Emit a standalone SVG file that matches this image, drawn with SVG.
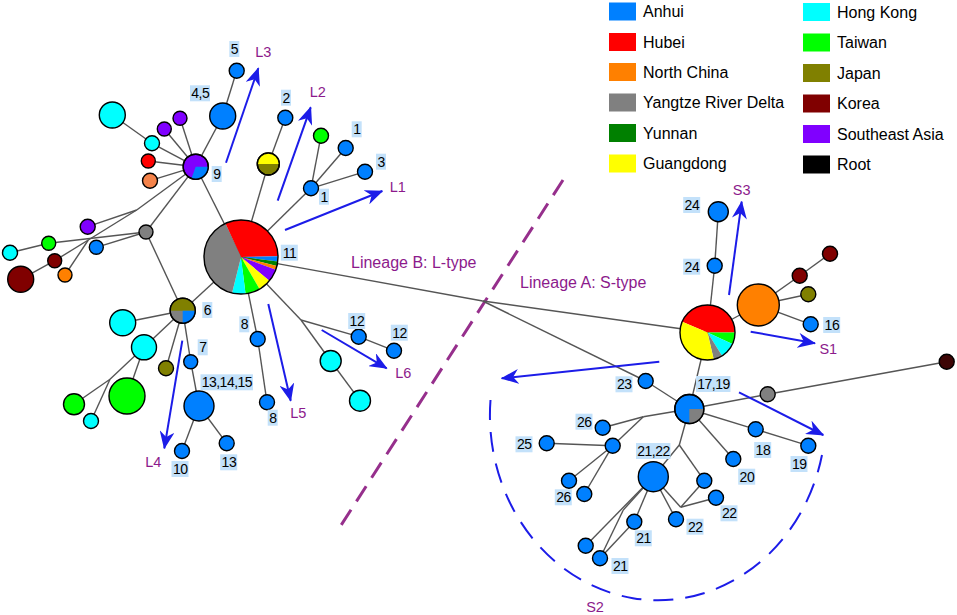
<svg xmlns="http://www.w3.org/2000/svg" width="957" height="615" viewBox="0 0 957 615">
<style>
.e{stroke:#555;stroke-width:1.4;fill:none}
.n{stroke:#000;stroke-width:1.4}
.s{stroke:none}
.o{fill:none;stroke:#000;stroke-width:1.4}
.ah{stroke:#1c1ce8;stroke-width:2;fill:none}
.lb rect{fill:#c3e1fa}
.lb text{font-family:"Liberation Sans",Arial,sans-serif;font-size:14px;letter-spacing:-0.5px;fill:#000;text-anchor:middle}
.pl{font-family:"Liberation Sans",Arial,sans-serif;font-size:14.5px;fill:#8c1a8c;text-anchor:middle}
.lin{font-family:"Liberation Sans",Arial,sans-serif;font-size:16px;fill:#8c1a8c}
.lg{font-family:"Liberation Sans",Arial,sans-serif;font-size:16px;fill:#000}
.AH{fill:#0080ff}.HB{fill:#ff0000}.NC{fill:#ff8000}.YR{fill:#808080}.YN{fill:#008000}.GD{fill:#ffff00}
.HK{fill:#00ffff}.TW{fill:#00ff00}.JP{fill:#808000}.KR{fill:#800000}.SA{fill:#8000ff}.RT{fill:#000}
.CO{fill:#f5834a}
</style>
<defs>
<marker id="ah" markerWidth="18" markerHeight="15" refX="17" refY="7.5" orient="auto" markerUnits="userSpaceOnUse">
<path d="M0,0 L18,7.5 L0,15 L5.5,7.5 Z" fill="#1c1ce8"/>
</marker>
</defs>
<rect width="957" height="615" fill="#fff"/>

<g id="legend">
<rect class="AH" x="609" y="2.5" width="27" height="18"/><text class="lg" x="643" y="17">Anhui</text>
<rect class="HB" x="609" y="33" width="27" height="18"/><text class="lg" x="643" y="47.5">Hubei</text>
<rect class="NC" x="609" y="63" width="27" height="18"/><text class="lg" x="643" y="77.5">North China</text>
<rect class="YR" x="609" y="93.5" width="27" height="18"/><text class="lg" x="643" y="108">Yangtze River Delta</text>
<rect class="YN" x="609" y="124" width="27" height="18"/><text class="lg" x="643" y="138.5">Yunnan</text>
<rect class="GD" x="609" y="154.5" width="27" height="18"/><text class="lg" x="643" y="169">Guangdong</text>
<rect class="HK" x="803" y="3" width="27" height="18"/><text class="lg" x="837" y="18">Hong Kong</text>
<rect class="TW" x="803" y="33.5" width="27" height="18"/><text class="lg" x="837" y="48">Taiwan</text>
<rect class="JP" x="803" y="64" width="27" height="18"/><text class="lg" x="837" y="78.5">Japan</text>
<rect class="KR" x="803" y="94.5" width="27" height="18"/><text class="lg" x="837" y="109">Korea</text>
<rect class="SA" x="803" y="125" width="27" height="18"/><text class="lg" x="837" y="139.5">Southeast Asia</text>
<rect class="RT" x="803" y="155.5" width="27" height="18"/><text class="lg" x="837" y="170">Root</text>
</g>

<g id="dividers">
<line x1="563" y1="180" x2="338" y2="530" stroke="#962f8c" stroke-width="3" stroke-dasharray="18 10"/>
<path d="M490.5,400 A168,185 0 0 0 822,455" fill="none" stroke="#1c1ce8" stroke-width="2" stroke-dasharray="20 12"/>
</g>

<g id="connectors">
<line class="e" x1="241" y1="257" x2="195.7" y2="166.7"/>
<line class="e" x1="195.7" y1="166.7" x2="222.7" y2="116"/>
<line class="e" x1="222.7" y1="116" x2="236.7" y2="70.7"/>
<line class="e" x1="195.7" y1="166.7" x2="152" y2="143.3"/>
<line class="e" x1="152" y1="143.3" x2="112.3" y2="115"/>
<line class="e" x1="195.7" y1="166.7" x2="180" y2="118.3"/>
<line class="e" x1="195.7" y1="166.7" x2="164.3" y2="129"/>
<line class="e" x1="195.7" y1="166.7" x2="148.3" y2="161"/>
<line class="e" x1="195.7" y1="166.7" x2="150" y2="180.7"/>
<line class="e" x1="195.7" y1="166.7" x2="136.7" y2="210"/>
<line class="e" x1="136.7" y1="210" x2="87.7" y2="226.7"/>
<line class="e" x1="136.7" y1="210" x2="88.3" y2="240"/>
<line class="e" x1="88.3" y1="240" x2="54.7" y2="260.7"/>
<line class="e" x1="88.3" y1="240" x2="65" y2="275"/>
<line class="e" x1="54.7" y1="260.7" x2="20.7" y2="279.3"/>
<line class="e" x1="195.7" y1="166.7" x2="146" y2="232"/>
<line class="e" x1="146" y1="232" x2="48.7" y2="243.3"/>
<line class="e" x1="48.7" y1="243.3" x2="10" y2="252.7"/>
<line class="e" x1="146" y1="232" x2="96.3" y2="247.3"/>
<line class="e" x1="146" y1="232" x2="182.7" y2="310.7"/>
<line class="e" x1="182.7" y1="310.7" x2="241" y2="257"/>
<line class="e" x1="182.7" y1="310.7" x2="122.7" y2="322.7"/>
<line class="e" x1="182.7" y1="310.7" x2="144" y2="347.3"/>
<line class="e" x1="144" y1="347.3" x2="127" y2="396"/>
<line class="e" x1="144" y1="347.3" x2="110" y2="379.3"/>
<line class="e" x1="110" y1="379.3" x2="74" y2="404.3"/>
<line class="e" x1="110" y1="379.3" x2="91" y2="421"/>
<line class="e" x1="182.7" y1="310.7" x2="166" y2="368.3"/>
<line class="e" x1="182.7" y1="310.7" x2="190.7" y2="361.7"/>
<line class="e" x1="190.7" y1="361.7" x2="199" y2="406"/>
<line class="e" x1="199" y1="406" x2="182" y2="451"/>
<line class="e" x1="199" y1="406" x2="226.7" y2="443.3"/>
<line class="e" x1="241" y1="257" x2="257.7" y2="339"/>
<line class="e" x1="257.7" y1="339" x2="267" y2="402.3"/>
<line class="e" x1="241" y1="257" x2="301" y2="320"/>
<line class="e" x1="301" y1="320" x2="330.7" y2="361"/>
<line class="e" x1="330.7" y1="361" x2="360" y2="400.7"/>
<line class="e" x1="301" y1="320" x2="358.7" y2="336.7"/>
<line class="e" x1="358.7" y1="336.7" x2="394" y2="350.7"/>
<line class="e" x1="241" y1="257" x2="268.3" y2="164"/>
<line class="e" x1="268.3" y1="164" x2="285.3" y2="117.7"/>
<line class="e" x1="241" y1="257" x2="311" y2="188.3"/>
<line class="e" x1="311" y1="188.3" x2="321" y2="135.7"/>
<line class="e" x1="311" y1="188.3" x2="345.7" y2="148"/>
<line class="e" x1="311" y1="188.3" x2="365" y2="171.7"/>
<line class="e" x1="241" y1="257" x2="482.7" y2="301"/>
<line class="e" x1="482.7" y1="301" x2="707.5" y2="332.5"/>
<line class="e" x1="482.7" y1="301" x2="645.7" y2="381"/>
<line class="e" x1="645.7" y1="381" x2="689.3" y2="409"/>
<line class="e" x1="707.5" y1="332.5" x2="714.7" y2="265.7"/>
<line class="e" x1="714.7" y1="265.7" x2="718.3" y2="211.7"/>
<line class="e" x1="707.5" y1="332.5" x2="758.3" y2="305"/>
<line class="e" x1="758.3" y1="305" x2="799.7" y2="275.7"/>
<line class="e" x1="799.7" y1="275.7" x2="830" y2="253.7"/>
<line class="e" x1="758.3" y1="305" x2="808.3" y2="294.3"/>
<line class="e" x1="758.3" y1="305" x2="810.7" y2="324.3"/>
<line class="e" x1="707.5" y1="332.5" x2="689.3" y2="409"/>
<line class="e" x1="689.3" y1="409" x2="767.7" y2="394.3"/>
<line class="e" x1="767.7" y1="394.3" x2="946.7" y2="361.7"/>
<line class="e" x1="689.3" y1="409" x2="755.7" y2="429.3"/>
<line class="e" x1="755.7" y1="429.3" x2="808.3" y2="445.7"/>
<line class="e" x1="689.3" y1="409" x2="733.3" y2="459"/>
<line class="e" x1="689.3" y1="409" x2="679.3" y2="445"/>
<line class="e" x1="679.3" y1="445" x2="653.3" y2="476.7"/>
<line class="e" x1="679.3" y1="445" x2="704.3" y2="480.7"/>
<line class="e" x1="653.3" y1="476.7" x2="680.7" y2="507.3"/>
<line class="e" x1="680.7" y1="507.3" x2="704.3" y2="480.7"/>
<line class="e" x1="680.7" y1="507.3" x2="716" y2="497.7"/>
<line class="e" x1="653.3" y1="476.7" x2="676" y2="519.3"/>
<line class="e" x1="653.3" y1="476.7" x2="585.7" y2="545.7"/>
<line class="e" x1="653.3" y1="476.7" x2="623.3" y2="510"/>
<line class="e" x1="623.3" y1="510" x2="600" y2="558.3"/>
<line class="e" x1="653.3" y1="476.7" x2="634.3" y2="521.7"/>
<line class="e" x1="634.3" y1="521.7" x2="600" y2="558.3"/>
<line class="e" x1="689.3" y1="409" x2="643.3" y2="416.7"/>
<line class="e" x1="643.3" y1="416.7" x2="602.7" y2="427.7"/>
<line class="e" x1="643.3" y1="416.7" x2="612.7" y2="445.7"/>
<line class="e" x1="612.7" y1="445.7" x2="546.7" y2="443.3"/>
<line class="e" x1="612.7" y1="445.7" x2="569" y2="480.7"/>
<line class="e" x1="612.7" y1="445.7" x2="584.3" y2="494"/>
</g>

<g id="node-pie-L">
<path class="s HB" d="M241,257 L225.36,223.47 A37,37 0 0 1 277.99,256.35 Z"/>
<path class="s AH" d="M241,257 L277.99,256.35 A37,37 0 0 1 277.72,261.51 Z"/>
<path class="s YN" d="M241,257 L277.72,261.51 A37,37 0 0 1 276.90,265.95 Z"/>
<path class="s NC" d="M241,257 L276.90,265.95 A37,37 0 0 1 275.77,269.65 Z"/>
<path class="s SA" d="M241,257 L275.77,269.65 A37,37 0 0 1 269.34,280.78 Z"/>
<path class="s GD" d="M241,257 L269.34,280.78 A37,37 0 0 1 259.5,289.04 Z"/>
<path class="s TW" d="M241,257 L259.5,289.04 A37,37 0 0 1 245.51,293.72 Z"/>
<path class="s HK" d="M241,257 L245.51,293.72 A37,37 0 0 1 232.05,292.90 Z"/>
<path class="s YR" d="M241,257 L232.05,292.90 A37,37 0 0 1 225.36,223.47 Z"/>
<circle class="o" cx="241" cy="257" r="37"/>
</g>
<g id="node-9">
<circle class="n SA" cx="195.7" cy="166.7" r="12.5"/>
<path class="s AH" d="M195.7,166.7 L208.2,166.7 A12.5,12.5 0 0 1 191.42,178.45 Z"/>
<circle class="o" cx="195.7" cy="166.7" r="12.5"/>
</g>
<g id="node-6">
<circle class="n YR" cx="182.7" cy="310.7" r="12.5"/>
<path class="s JP" d="M170.2,310.7 A12.5,12.5 0 0 1 195.2,310.7 Z"/>
<path class="s AH" d="M182.7,310.7 L195.2,310.7 A12.5,12.5 0 0 1 182.7,323.2 Z"/>
<circle class="o" cx="182.7" cy="310.7" r="12.5"/>
</g>
<g id="node-yj">
<circle class="n JP" cx="268.3" cy="164" r="11"/>
<path class="s GD" d="M257.3,164 A11,11 0 0 1 279.3,164 Z"/>
<circle class="o" cx="268.3" cy="164" r="11"/>
</g>
<g id="nodes-left">
<circle class="n AH" cx="236.7" cy="70.7" r="7.5"/>
<circle class="n AH" cx="222.7" cy="116" r="13"/>
<circle class="n HK" cx="112.3" cy="115" r="13"/>
<circle class="n SA" cx="180" cy="118.3" r="7"/>
<circle class="n SA" cx="164.3" cy="129" r="7"/>
<circle class="n HK" cx="152" cy="143.3" r="7.5"/>
<circle class="n HB" cx="148.3" cy="161" r="7"/>
<circle class="n CO" cx="150" cy="180.7" r="7.5"/>
<circle class="n YR" cx="146" cy="232" r="7"/>
<circle class="n SA" cx="87.7" cy="226.7" r="7.5"/>
<circle class="n TW" cx="48.7" cy="243.3" r="7"/>
<circle class="n AH" cx="96.3" cy="247.3" r="7"/>
<circle class="n HK" cx="10" cy="252.7" r="7.5"/>
<circle class="n KR" cx="54.7" cy="260.7" r="7"/>
<circle class="n NC" cx="65" cy="275" r="7"/>
<circle class="n KR" cx="20.7" cy="279.3" r="13"/>
<circle class="n HK" cx="122.7" cy="322.7" r="13"/>
<circle class="n HK" cx="144" cy="347.3" r="12.5"/>
<circle class="n JP" cx="166" cy="368.3" r="7.5"/>
<circle class="n AH" cx="190.7" cy="361.7" r="7"/>
<circle class="n AH" cx="199" cy="406" r="15"/>
<circle class="n TW" cx="127" cy="396" r="18"/>
<circle class="n TW" cx="74" cy="404.3" r="10.5"/>
<circle class="n HK" cx="91" cy="421" r="7.5"/>
<circle class="n AH" cx="182" cy="451" r="7.5"/>
<circle class="n AH" cx="226.7" cy="443.3" r="7.5"/>
<circle class="n AH" cx="257.7" cy="339" r="7.5"/>
<circle class="n AH" cx="267" cy="402.3" r="7.5"/>
<circle class="n HK" cx="330.7" cy="361" r="10.5"/>
<circle class="n HK" cx="360" cy="400.7" r="10.5"/>
<circle class="n AH" cx="358.7" cy="336.7" r="7.5"/>
<circle class="n AH" cx="394" cy="350.7" r="7.5"/>
<circle class="n AH" cx="285.3" cy="117.7" r="7.5"/>
<circle class="n TW" cx="321" cy="135.7" r="7.5"/>
<circle class="n AH" cx="345.7" cy="148" r="7.5"/>
<circle class="n AH" cx="365" cy="171.7" r="7.5"/>
<circle class="n AH" cx="311" cy="188.3" r="7.5"/>
</g>

<g id="node-pie-R">
<path class="s HB" d="M707.5,332.5 L682.19,321.75 A27.5,27.5 0 0 1 735,332.5 Z"/>
<path class="s TW" d="M707.5,332.5 L735,332.5 A27.5,27.5 0 0 1 732.42,344.12 Z"/>
<path class="s HK" d="M707.5,332.5 L732.42,344.12 A27.5,27.5 0 0 1 722.07,355.82 Z"/>
<path class="s YR" d="M707.5,332.5 L722.07,355.82 A27.5,27.5 0 0 1 713.69,359.30 Z"/>
<path class="s GD" d="M707.5,332.5 L713.69,359.30 A27.5,27.5 0 0 1 682.19,321.75 Z"/>
<circle class="o" cx="707.5" cy="332.5" r="27.5"/>
</g>
<g id="node-1719">
<circle class="n AH" cx="689.3" cy="409" r="14.5"/>
<path class="s YR" d="M689.3,409 L703.8,409 A14.5,14.5 0 0 1 689.3,423.5 Z"/>
<circle class="o" cx="689.3" cy="409" r="14.5"/>
</g>
<g id="nodes-right">
<circle class="n AH" cx="718.3" cy="211.7" r="10"/>
<circle class="n AH" cx="714.7" cy="265.7" r="7.5"/>
<circle class="n NC" cx="758.3" cy="305" r="21"/>
<circle class="n KR" cx="799.7" cy="275.7" r="7.5"/>
<circle class="n KR" cx="830" cy="253.7" r="7.5"/>
<circle class="n JP" cx="808.3" cy="294.3" r="7.5"/>
<circle class="n AH" cx="810.7" cy="324.3" r="7.5"/>
<circle class="n YR" cx="767.7" cy="394.3" r="7.5"/>
<circle class="n" cx="946.7" cy="361.7" r="7.5" fill="#3d0505"/>
<circle class="n AH" cx="645.7" cy="381" r="7.5"/>
<circle class="n AH" cx="755.7" cy="429.3" r="7.5"/>
<circle class="n AH" cx="808.3" cy="445.7" r="7.5"/>
<circle class="n AH" cx="733.3" cy="459" r="7.5"/>
<circle class="n AH" cx="653.3" cy="476.7" r="15"/>
<circle class="n AH" cx="704.3" cy="480.7" r="7.5"/>
<circle class="n AH" cx="716" cy="497.7" r="7.5"/>
<circle class="n AH" cx="676" cy="519.3" r="7.5"/>
<circle class="n AH" cx="634.3" cy="521.7" r="7.5"/>
<circle class="n AH" cx="585.7" cy="545.7" r="7.5"/>
<circle class="n AH" cx="600" cy="558.3" r="7.5"/>
<circle class="n AH" cx="602.7" cy="427.7" r="7.5"/>
<circle class="n AH" cx="612.7" cy="445.7" r="7.5"/>
<circle class="n AH" cx="546.7" cy="443.3" r="7.5"/>
<circle class="n AH" cx="569" cy="480.7" r="7.5"/>
<circle class="n AH" cx="584.3" cy="494" r="7.5"/>
</g>

<g id="labels" class="lb">
<rect x="229.3" y="41" width="10" height="16"/><text x="234.5" y="54">5</text>
<rect x="190" y="85.3" width="20" height="16"/><text x="200.2" y="98.3">4,5</text>
<rect x="211.7" y="166" width="10" height="16"/><text x="216.9" y="179">9</text>
<rect x="281" y="89.7" width="10" height="16"/><text x="286.2" y="102.7">2</text>
<rect x="351.7" y="121.3" width="10" height="16"/><text x="356.9" y="134.3">1</text>
<rect x="376" y="153.7" width="10" height="16"/><text x="381.2" y="166.7">3</text>
<rect x="319" y="188.7" width="10" height="16"/><text x="324.2" y="201.7">1</text>
<rect x="280.8" y="244.7" width="17" height="16"/><text x="289.5" y="257.7">11</text>
<rect x="202.3" y="302" width="10" height="16"/><text x="207.5" y="315">6</text>
<rect x="197.7" y="339.3" width="10" height="16"/><text x="202.9" y="352.3">7</text>
<rect x="200.5" y="374.3" width="52.5" height="16"/><text x="226.9" y="387.3">13,14,15</text>
<rect x="171.5" y="461" width="17" height="16"/><text x="180.2" y="474">10</text>
<rect x="220.2" y="454.3" width="17" height="16"/><text x="228.9" y="467.3">13</text>
<rect x="239.3" y="316.3" width="10" height="16"/><text x="244.5" y="329.3">8</text>
<rect x="267.7" y="409.7" width="10" height="16"/><text x="272.9" y="422.7">8</text>
<rect x="348.2" y="313" width="17" height="16"/><text x="356.9" y="326">12</text>
<rect x="390.8" y="324.7" width="17" height="16"/><text x="399.5" y="337.7">12</text>
<rect x="683.2" y="197" width="17" height="16"/><text x="691.9" y="210">24</text>
<rect x="683.2" y="258.7" width="17" height="16"/><text x="691.9" y="271.7">24</text>
<rect x="823.2" y="317" width="17" height="16"/><text x="831.9" y="330">16</text>
<rect x="696" y="376" width="34.5" height="16"/><text x="713.5" y="389">17,19</text>
<rect x="615.5" y="376.3" width="17" height="16"/><text x="624.2" y="389.3">23</text>
<rect x="575.5" y="413.7" width="17" height="16"/><text x="584.2" y="426.7">26</text>
<rect x="515.5" y="436.3" width="17" height="16"/><text x="524.2" y="449.3">25</text>
<rect x="636" y="443" width="34.5" height="16"/><text x="653.5" y="456">21,22</text>
<rect x="554.8" y="489.3" width="17" height="16"/><text x="563.5" y="502.3">26</text>
<rect x="634.8" y="530.3" width="17" height="16"/><text x="643.5" y="543.3">21</text>
<rect x="611.5" y="558" width="17" height="16"/><text x="620.2" y="571">21</text>
<rect x="686.5" y="518.7" width="17" height="16"/><text x="695.2" y="531.7">22</text>
<rect x="720.5" y="505.3" width="17" height="16"/><text x="729.2" y="518.3">22</text>
<rect x="754.2" y="442" width="17" height="16"/><text x="762.9" y="455">18</text>
<rect x="790.5" y="456" width="17" height="16"/><text x="799.2" y="469">19</text>
<rect x="738.2" y="468.7" width="17" height="16"/><text x="746.9" y="481.7">20</text>
</g>

<g id="arrows">
<line class="ah" x1="226" y1="162.7" x2="258.3" y2="68.3" marker-end="url(#ah)"/>
<line class="ah" x1="277.7" y1="200.7" x2="310.7" y2="107.3" marker-end="url(#ah)"/>
<line class="ah" x1="285" y1="230" x2="382.3" y2="191" marker-end="url(#ah)"/>
<line class="ah" x1="182.3" y1="340.7" x2="164.3" y2="448.3" marker-end="url(#ah)"/>
<line class="ah" x1="268.3" y1="304" x2="290.7" y2="400.7" marker-end="url(#ah)"/>
<line class="ah" x1="321.7" y1="330" x2="386.7" y2="368.3" marker-end="url(#ah)"/>
<line class="ah" x1="729" y1="295" x2="741.7" y2="201.7" marker-end="url(#ah)"/>
<line class="ah" x1="750.7" y1="331.7" x2="815" y2="343.3" marker-end="url(#ah)"/>
<line class="ah" x1="659.3" y1="361.7" x2="501.7" y2="378.3" marker-end="url(#ah)"/>
<line class="ah" x1="739" y1="392.3" x2="823.3" y2="435" marker-end="url(#ah)"/>
</g>

<g id="texts">
<text class="pl" x="263.3" y="56.7">L3</text>
<text class="pl" x="317.7" y="96.7">L2</text>
<text class="pl" x="397.7" y="191.7">L1</text>
<text class="pl" x="153.3" y="466.7">L4</text>
<text class="pl" x="298.3" y="418.3">L5</text>
<text class="pl" x="403.3" y="378.3">L6</text>
<text class="pl" x="741.7" y="195">S3</text>
<text class="pl" x="828.3" y="354">S1</text>
<text class="pl" x="595" y="611.7">S2</text>
<text class="lin" x="351" y="267.5">Lineage B: L-type</text>
<text class="lin" x="520" y="287.5">Lineage A: S-type</text>
</g>
</svg>
